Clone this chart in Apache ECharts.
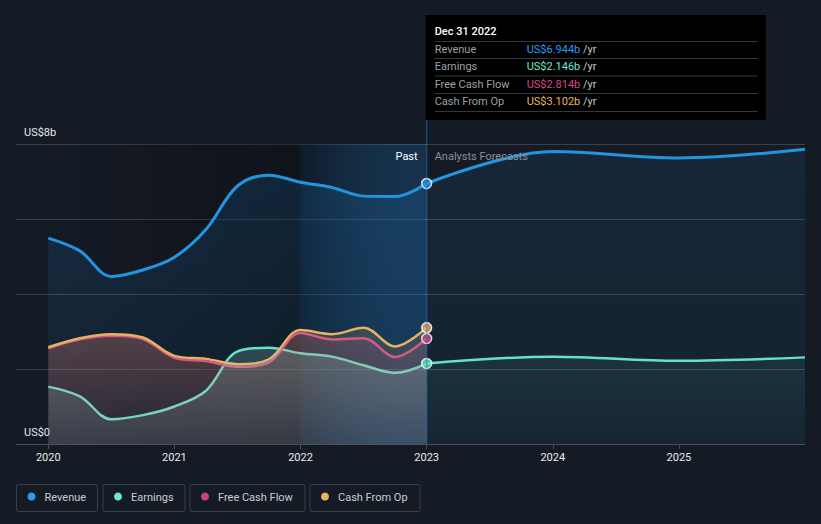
<!DOCTYPE html>
<html>
<head>
<meta charset="utf-8">
<script src="https://cdn.jsdelivr.net/npm/echarts@6/dist/echarts.min.js"></script>
<style>
html,body{margin:0;padding:0;background:#151b25;}
#chart{width:821px;height:524px;}
</style>
</head>
<body>
<div id="chart"></div>
<script>
// ---- data (US$ billions, decimal years) ----
const pastDates = [2020, 2020.25, 2020.5, 2020.75, 2021, 2021.25, 2021.5, 2021.75, 2022, 2022.25, 2022.5, 2022.75, 2023];
const revenuePast  = [5.49, 5.15, 4.47, 4.64, 4.98, 5.72, 6.88, 7.17, 6.98, 6.84, 6.61, 6.60, 6.944];
const earningsPast = [1.53, 1.27, 0.66, 0.77, 1.00, 1.42, 2.47, 2.57, 2.42, 2.33, 2.10, 1.90, 2.146];
const fcfPast      = [2.55, 2.79, 2.89, 2.80, 2.30, 2.21, 2.06, 2.18, 2.96, 2.79, 2.82, 2.32, 2.814];
const cfoPast      = [2.58, 2.82, 2.93, 2.84, 2.35, 2.27, 2.13, 2.26, 3.04, 2.93, 3.10, 2.60, 3.102];
const forecastDates    = [2023, 2024, 2025, 2026];
const revenueForecast  = [6.944, 7.80, 7.63, 7.86];
const earningsForecast = [2.146, 2.33, 2.22, 2.31];
const xTickValues = [2020, 2021, 2022, 2023, 2024, 2025];
const yTickLabels = {0: 'US$0', 8: 'US$8b'};
const seriesNames = ['Revenue', 'Earnings', 'Free Cash Flow', 'Cash From Op'];
const tooltipTitle = 'Dec 31 2022';

const C = {rev:'#2394df', earn:'#62e3c9', fcf:'#d04a8a', cfo:'#e8b15f'};
const FONT = 'Roboto, "Noto Sans", sans-serif';

function pairs(xs, ys){ return xs.map((x,i)=>[x, ys[i]]); }
function vgrad(stops){ return new echarts.graphic.LinearGradient(0,0,0,1, stops.map(s=>({offset:s[0], color:s[1]}))); }
function hgrad(stops){ return new echarts.graphic.LinearGradient(0,0,1,0, stops.map(s=>({offset:s[0], color:s[1]}))); }

const SM = 0.35;
function lineOnly(name, data, color, z, width){
  return {type:'line', name, data, smooth:SM, showSymbol:false, z, silent:true,
    lineStyle:{color, width: width||2.5}, itemStyle:{color}};
}
function fillOnly(name, data, fill, z){
  return {type:'line', name, data, smooth:SM, showSymbol:false, z, silent:true,
    lineStyle:{width:0, opacity:0}, areaStyle:{color:fill, origin:'start'}};
}

const chart = echarts.init(document.getElementById('chart'), null, {renderer:'svg'});

const option = {
  animation:false,
  backgroundColor:'#151b25',
  grid:{left:16, right:16, top:144, bottom:80},
  xAxis:{
    type:'value', min:2019.744, max:2026,
    axisLine:{show:true, lineStyle:{color:'#4a4f58', width:1}},
    axisTick:{show:true, customValues:xTickValues, length:5, lineStyle:{color:'#4a4f58'}},
    axisLabel:{customValues:xTickValues, color:'#e8eaed', fontSize:11, fontFamily:FONT, margin:8,
      formatter:v=>String(Math.round(v))},
    splitLine:{show:false}
  },
  yAxis:{
    type:'value', min:0, max:8, interval:2,
    axisLine:{show:false}, axisTick:{show:false},
    splitLine:{lineStyle:{color:'#3b414a', width:1}},
    axisLabel:{inside:true, margin:8, color:'#e8eaed', fontSize:11, fontFamily:FONT,
      verticalAlign:'bottom', padding:[0,0,6,0],
      formatter:v=> yTickLabels[v] || ''}
  },
  series:[
    // background shading (past darkening + last-year highlight)
    {type:'line', data:[], z:0, silent:true,
      markArea:{silent:true, itemStyle:{}, data:[
        [{xAxis:2019.744, itemStyle:{color:hgrad([[0,'rgba(0,0,0,0)'],[1,'rgba(0,0,0,0.3)']])}}, {xAxis:2022}],
        [{xAxis:2022, itemStyle:{color:hgrad([[0,'rgba(5,28,48,0.4)'],[1,'rgba(33,150,243,0.18)']])}}, {xAxis:2023}]
      ]}},
    // revenue fills
    fillOnly('revFillPast', pairs(pastDates, revenuePast), vgrad([[0,'rgba(33,150,243,0.20)'],[1,'rgba(33,150,243,0.08)']]), 1),
    fillOnly('revFillFc', pairs(forecastDates, revenueForecast), vgrad([[0,'rgba(33,150,243,0.13)'],[1,'rgba(33,150,243,0.07)']]), 1),
    fillOnly('earnFillFc', pairs(forecastDates, earningsForecast), vgrad([[0,'rgba(98,227,201,0.12)'],[1,'rgba(98,227,201,0.03)']]), 2),
    // past lines (under fills)
    lineOnly('Earnings', pairs(pastDates, earningsPast), C.earn, 3),
    lineOnly('Free Cash Flow', pairs(pastDates, fcfPast), C.fcf, 3),
    lineOnly('Cash From Op', pairs(pastDates, cfoPast), C.cfo, 3),
    // past fills on top
    fillOnly('fcfFill', pairs(pastDates, fcfPast), vgrad([[0,'rgba(208,74,138,0.26)'],[1,'rgba(208,74,138,0.05)']]), 4),
    fillOnly('cfoFill', pairs(pastDates, cfoPast), vgrad([[0,'rgba(232,177,95,0.24)'],[1,'rgba(232,177,95,0.05)']]), 4),
    fillOnly('earnFill', pairs(pastDates, earningsPast), vgrad([[0,'rgba(150,215,200,0.32)'],[1,'rgba(190,200,205,0.2)']]), 4),
    // top lines
    lineOnly('Revenue', pairs(pastDates, revenuePast), C.rev, 5, 3),
    lineOnly('revFc', pairs(forecastDates, revenueForecast), C.rev, 5, 3),
    lineOnly('earnFc', pairs(forecastDates, earningsForecast), C.earn, 5, 2.5),
    // end-point dots
    {type:'scatter', z:6, silent:true, symbolSize:10,
      itemStyle:{borderColor:'#ffffff', borderWidth:1.5},
      data:[
        {value:[pastDates[12], revenuePast[12]], itemStyle:{color:C.rev}},
        {value:[pastDates[12], cfoPast[12]], itemStyle:{color:C.cfo}},
        {value:[pastDates[12], fcfPast[12]], itemStyle:{color:C.fcf}},
        {value:[pastDates[12], earningsPast[12]], itemStyle:{color:C.earn}}
      ]}
  ]
};
chart.setOption(option);

// ---- overlay: crosshair, Past/Forecast labels, tooltip box, legend ----
const xNow = chart.convertToPixel({xAxisIndex:0}, 2023);
const yTop = chart.convertToPixel({yAxisIndex:0}, 8);
const yBase = chart.convertToPixel({yAxisIndex:0}, 0);

const fmt = v => 'US$' + v.toFixed(3) + 'b';
const rows = [
  {label:seriesNames[0], value:fmt(revenuePast[12]), color:'#2d9cf0'},
  {label:seriesNames[1], value:fmt(earningsPast[12]), color:'#6ce8cf'},
  {label:seriesNames[2], value:fmt(fcfPast[12]), color:'#d8488c'},
  {label:seriesNames[3], value:fmt(cfoPast[12]), color:'#e9b35f'}
];

const g = [];
// crosshair
g.push({type:'line', z:50, silent:true, shape:{x1:xNow, y1:118, x2:xNow, y2:yBase},
  style:{stroke:'rgba(40,120,190,0.45)', lineWidth:1.5}});
// past / forecast labels
g.push({type:'text', z:50, x:xNow-9, y:yTop+12, style:{text:'Past', fill:'#ffffff', font:'11px '+FONT, textAlign:'right', textVerticalAlign:'middle'}});
g.push({type:'text', z:50, x:xNow+8, y:yTop+12, style:{text:'Analysts Forecasts', fill:'#8b9097', font:'11px '+FONT, textAlign:'left', textVerticalAlign:'middle'}});
// tooltip
const tx = xNow - 1, ty = 15, tw = 340, th = 105;
g.push({type:'rect', z:60, shape:{x:tx, y:ty, width:tw, height:th}, style:{fill:'#000000'}});
g.push({type:'text', z:61, x:tx+9, y:ty+16, style:{text:tooltipTitle, fill:'#ffffff', font:'500 11px '+FONT, textVerticalAlign:'middle'}});
const sepY = [41.5, 58.5, 76, 93.5, 111.5];
sepY.forEach(y=>g.push({type:'line', z:61, shape:{x1:tx+9, y1:y, x2:tx+tw-8, y2:y}, style:{stroke:'#34373b', lineWidth:1}}));
rows.forEach((r,i)=>{
  const cy = 49.5 + i*17.3;
  g.push({type:'text', z:61, x:tx+9, y:cy, style:{text:r.label, fill:'#9ba0a6', font:'11px '+FONT, textVerticalAlign:'middle'}});
  g.push({type:'text', z:61, x:tx+101, y:cy, style:{
    text:'{v|'+r.value+'}{u| /yr}', textVerticalAlign:'middle', font:'11px '+FONT,
    rich:{v:{fill:r.color, font:'11px '+FONT}, u:{fill:'#c4c7cb', font:'11px '+FONT}}}});
});
// legend
const legendBoxes = [[16, 81], [102.5, 82], [189.5, 115], [309.5, 110]];
const legendColors = ['#2d9cf0', '#6ce8cf', '#c8418a', '#e9b35f'];
seriesNames.forEach((n,i)=>{
  const [bx,bw] = legendBoxes[i];
  g.push({type:'rect', z:50, shape:{x:bx+0.5, y:484.5, width:bw, height:27, r:2}, style:{fill:'none', stroke:'#3a3f48', lineWidth:1}});
  g.push({type:'circle', z:51, shape:{cx:bx+15.5, cy:496.5, r:4}, style:{fill:legendColors[i]}});
  g.push({type:'text', z:51, x:bx+28.5, y:497, style:{text:n, fill:'#c9cdd2', font:'11px '+FONT, textVerticalAlign:'middle'}});
});
chart.setOption({graphic:g});
</script>
</body>
</html>
